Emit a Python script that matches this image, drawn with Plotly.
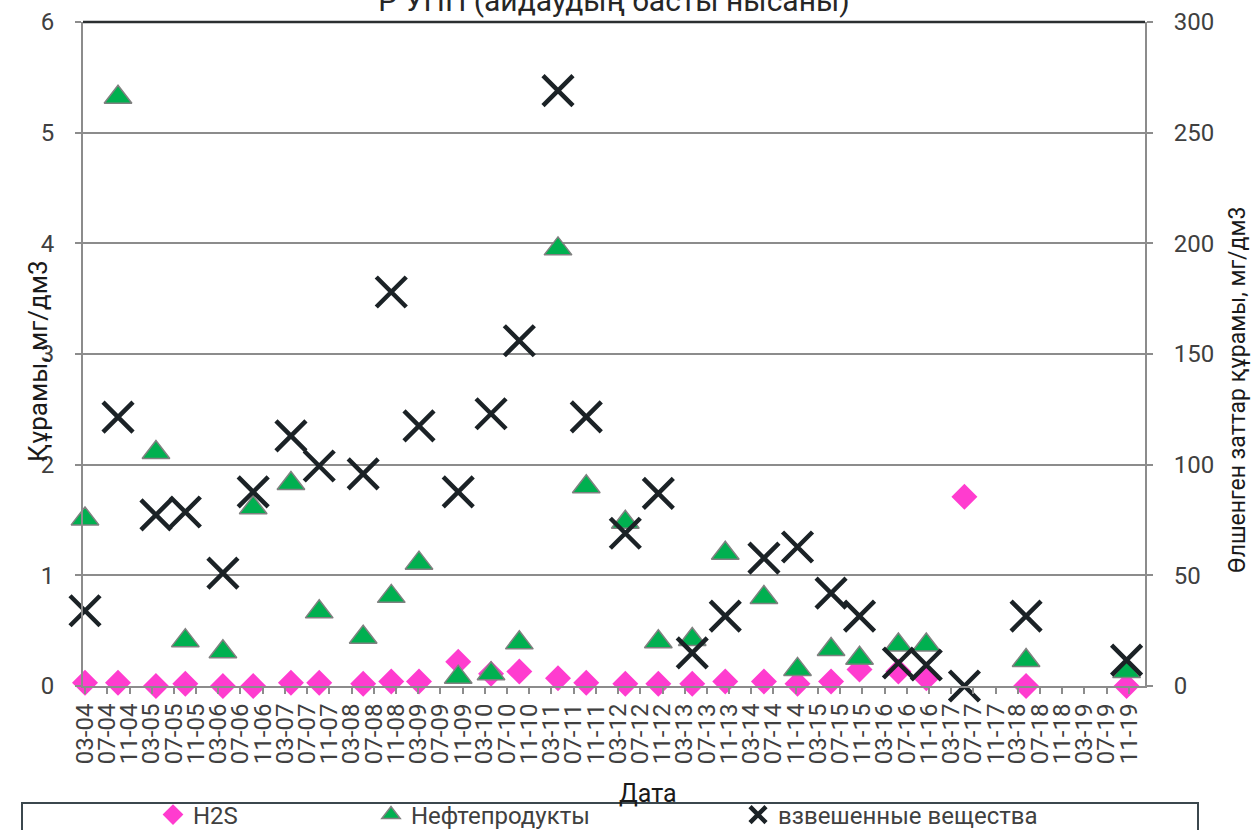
import plotly.graph_objects as go

dates = [
    "2004-03-01", "2004-08-29", "2005-03-25", "2005-09-02", "2006-03-27",
    "2006-09-09", "2007-04-04", "2007-09-06", "2008-05-04", "2008-10-05",
    "2009-03-06", "2009-10-07", "2010-04-05", "2010-09-07", "2011-04-07",
    "2011-09-09", "2012-04-10", "2012-10-08", "2013-04-12", "2013-10-10",
    "2014-05-10", "2014-11-10", "2015-05-13", "2015-10-16", "2016-05-16",
    "2016-10-16", "2017-05-13", "2018-04-16", "2019-10-19",
]

h2s = [
    0.03, 0.03, 0.00, 0.02, 0.00, 0.00, 0.03, 0.03, 0.02, 0.04,
    0.04, 0.22, 0.11, 0.13, 0.07, 0.03, 0.02, 0.02, 0.02, 0.04,
    0.04, 0.02, 0.04, 0.15, 0.13, 0.07, 1.71, 0.00, 0.00,
]

oil = [
    1.51, 5.32, 2.11, 0.41, 0.31, 1.61, 1.83, 0.67, 0.44, 0.81,
    1.11, 0.08, 0.11, 0.39, 3.95, 1.80, 1.48, 0.40, 0.42, 1.20,
    0.80, 0.15, 0.33, 0.25, 0.37, 0.37, None, 0.23, 0.13,
]

tss = [
    34, 121.5, 77.3, 78.6, 51, 87.7, 113, 99.4, 95.8, 178,
    117.5, 87.7, 123, 156, 269, 121.6, 69, 87, 15, 31.6,
    57.8, 62.8, 42, 31.6, 10.4, 9.5, 0, 31.6, 11.7,
]

names = ["H2S", "Нефтепродукты", "взвешенные вещества"]
title_text = "Р УПП (айдаудың басты нысаны)"
y1_title = "Құрамы, мг/дм3"
y2_title = "Өлшенген заттар құрамы, мг/дм3"
x_title = "Дата"

W, H = 1252, 830
L, R, T, B = 83, 107, 22, 144
PW, PH = W - L - R, H - T - B

FONT = "Roboto, 'Open Sans', sans-serif"
TXT = "#404040"
GRID = "#8c8c8c"

fig = go.Figure()
fig.add_trace(go.Scatter(
    x=dates, y=h2s, mode="markers", name=names[0], legend="legend", cliponaxis=False,
    marker=dict(symbol="diamond", size=20, color="#FF3CCF", line=dict(width=0)),
))
fig.add_trace(go.Scatter(
    x=dates, y=oil, mode="markers", name=names[1], legend="legend2", cliponaxis=False,
    marker=dict(symbol="triangle-up", size=24, color="#00B050",
                line=dict(color="#808080", width=1.5)),
))
fig.add_trace(go.Scatter(
    x=dates, y=tss, mode="markers", name=names[2], legend="legend3", yaxis="y2",
    cliponaxis=False,
    marker=dict(symbol="x-thin-open", size=30, color="#1B2226",
                line=dict(color="#1B2226", width=4.5)),
))

legend_common = dict(
    orientation="h", xanchor="left", yanchor="middle",
    xref="container", yref="container", y=1 - 815 / H,
    bgcolor="rgba(0,0,0,0)", borderwidth=0,
    font=dict(family=FONT, size=24, color=TXT),
)

fig.update_layout(
    width=W, height=H,
    margin=dict(l=L, r=R, t=T, b=B),
    paper_bgcolor="white", plot_bgcolor="white",
    font=dict(family=FONT, size=23, color=TXT),
    title=dict(text=title_text, x=0.5, xref="paper", y=1.0, yref="container",
               yanchor="middle", font=dict(family=FONT, size=30, color="#262626")),
    showlegend=True,
    legend=dict(legend_common, x=153 / W),
    legend2=dict(legend_common, x=371 / W),
    legend3=dict(legend_common, x=738 / W),
    xaxis=dict(
        type="date", range=["2004-02-19", "2020-01-28"], automargin=False,
        tick0="2004-03-01", dtick="M4", tickformat="%m-%y", tickangle=-90,
        ticks="outside", ticklen=6, tickwidth=1.5, tickcolor=GRID,
        showline=True, linecolor=GRID, linewidth=2, showgrid=False,
        tickfont=dict(family=FONT, size=24, color=TXT),
    ),
    yaxis=dict(
        range=[0, 6], dtick=1, showgrid=True, gridcolor=GRID, gridwidth=1.5,
        zeroline=False, showline=True, linecolor=GRID, linewidth=2, automargin=False,
        ticks="outside", ticklen=6, tickwidth=1.5, tickcolor=GRID,
        ticklabelstandoff=16,
        tickfont=dict(family=FONT, size=24, color=TXT),
    ),
    yaxis2=dict(
        range=[0, 300], dtick=50, overlaying="y", side="right", showgrid=False,
        zeroline=False, showline=True, linecolor=GRID, linewidth=2, automargin=False,
        ticks="outside", ticklen=6, tickwidth=1.5, tickcolor=GRID,
        ticklabelstandoff=16,
        tickfont=dict(family=FONT, size=24, color=TXT),
    ),
    annotations=[
        dict(text=y1_title, xref="paper", yref="paper", x=(38 - L) / PW, y=(H - B - 361) / PH,
             textangle=-90, showarrow=False, xanchor="center", yanchor="middle",
             font=dict(family=FONT, size=26, color="#1a1a1a")),
        dict(text=y2_title, xref="paper", yref="paper", x=(1237 - L) / PW, y=(H - B - 390) / PH,
             textangle=-90, showarrow=False, xanchor="center", yanchor="middle",
             font=dict(family=FONT, size=23, color="#1a1a1a")),
        dict(text=x_title, xref="paper", yref="paper", x=(648 - L) / PW, y=(H - B - 793) / PH,
             showarrow=False, xanchor="center", yanchor="middle",
             font=dict(family=FONT, size=25, color="#1a1a1a")),
    ],
    shapes=[
        dict(type="line", xref="paper", yref="paper", x0=0, x1=1, y0=1, y1=1,
             line=dict(color="#2b2f31", width=2.5)),
        dict(type="rect", xref="paper", yref="paper",
             x0=(22 - L) / PW, x1=(1198 - L) / PW,
             y0=(H - B - 803) / PH, y1=(H - B - 860) / PH,
             line=dict(color="#3b474d", width=2), fillcolor="rgba(0,0,0,0)"),
    ],
)

fig.write_html("out.html", config={"displayModeBar": False},
               post_script="document.body.style.margin='0';")
